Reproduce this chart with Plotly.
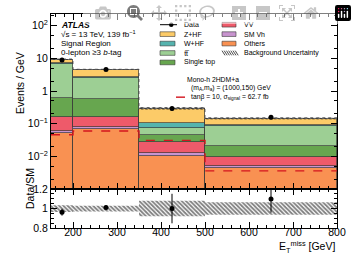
import plotly.graph_objects as go

# ---------------- data ----------------
bin_edges = [150, 200, 350, 500, 800]
others    = [0.051, 0.069, 0.010, 0.0044]
sm_vh     = [0.011, 0.008, 0.0025, 0.0006]
vv        = [0.102, 0.080, 0.0155, 0.0043]
single_top= [0.466, 0.413, 0.016, 0.0117]
ttbar     = [5.87, 1.89, 0.032, 0.067]
w_hf      = [0.50, 0.14, 0.028, 0.006]
z_hf      = [2.20, 1.90, 0.186, 0.049]
data      = [8.85, 4.55, 0.29, 0.157]
data_err  = [0.32, 0.09, 0.044, 0.020]
signal    = [0.046, 0.060, 0.031, 0.0036]
bkg_unc   = [0.035, 0.030, 0.080, 0.065]   # fractional

x_ticks = [200, 300, 400, 500, 600, 700, 800]
y_tickvals = [1e-2, 1e-1, 1, 10, 100]
y_ticktext = ["10<sup>\u22122</sup>", "10<sup>\u22121</sup>", "1", "10", "10<sup>2</sup>"]

# ---------------- helpers ----------------
centers = [(a + b) / 2 for a, b in zip(bin_edges[:-1], bin_edges[1:])]
widths = [b - a for a, b in zip(bin_edges[:-1], bin_edges[1:])]
nb = len(centers)
total = [sum(c[i] for c in [others, sm_vh, vv, single_top, ttbar, w_hf, z_hf]) for i in range(nb)]
ratio = [data[i] / total[i] for i in range(nb)]
ratio_err = [data_err[i] / total[i] for i in range(nb)]

def step(v):
    return list(v) + [v[-1]]

FONT = "Liberation Sans, Arial, Helvetica, sans-serif"
EDGE = "#3a3a3a"

components = [
    ("Others", others, "#f99152"),
    ("SM Vh", sm_vh, "#c894cf"),
    ("VV", vv, "#ee5a6a"),
    ("Single top", single_top, "#67a64f"),
    ("tt\u0305", ttbar, "#9dcf94"),
    ("W+HF", w_hf, "#55b3ae"),
    ("Z+HF", z_hf, "#fccb68"),
]

fig = go.Figure()

for name, vals, col in components:
    fig.add_trace(go.Bar(x=centers, y=vals, width=widths, name=name,
                         marker=dict(color=col, line=dict(color=EDGE, width=0.7)),
                         xaxis="x", yaxis="y", showlegend=False))

# background uncertainty in main panel
lo = [total[i] * (1 - bkg_unc[i]) for i in range(nb)]
hi = [total[i] * (1 + bkg_unc[i]) for i in range(nb)]
hatch = dict(shape="\\", fgcolor="black", bgcolor="rgba(0,0,0,0)", size=3, solidity=0.6)
fig.add_trace(go.Scatter(x=bin_edges, y=step(lo), mode="lines", line=dict(width=0, shape="hv"),
                         xaxis="x", yaxis="y", showlegend=False))
fig.add_trace(go.Scatter(x=bin_edges, y=step(hi), mode="lines", line=dict(width=0, shape="hv"),
                         fill="tonexty", fillcolor="rgba(0,0,0,0)", fillpattern=hatch,
                         xaxis="x", yaxis="y", showlegend=False))
fig.add_trace(go.Scatter(x=bin_edges, y=step(hi), mode="lines",
                         line=dict(width=0.8, shape="hv", dash="dot", color="#444"),
                         xaxis="x", yaxis="y", showlegend=False))

# signal
fig.add_trace(go.Scatter(x=bin_edges, y=step(signal), mode="lines",
                         line=dict(color="#d4141e", width=1.4, dash="dash", shape="hv"),
                         xaxis="x", yaxis="y", showlegend=False))

# data
fig.add_trace(go.Scatter(x=centers, y=data, mode="markers",
                         marker=dict(color="black", size=5),
                         error_y=dict(type="data", array=data_err, color="black", thickness=1, width=0),
                         xaxis="x", yaxis="y", showlegend=False))

# ratio panel
fig.add_trace(go.Scatter(x=bin_edges, y=step([1 - u for u in bkg_unc]), mode="lines",
                         line=dict(width=0, shape="hv"), xaxis="x2", yaxis="y2", showlegend=False))
fig.add_trace(go.Scatter(x=bin_edges, y=step([1 + u for u in bkg_unc]), mode="lines",
                         line=dict(width=0, shape="hv"), fill="tonexty", fillcolor="rgba(0,0,0,0)",
                         fillpattern=hatch, xaxis="x2", yaxis="y2", showlegend=False))
fig.add_trace(go.Scatter(x=centers, y=ratio, mode="markers", marker=dict(color="black", size=5),
                         error_y=dict(type="data", array=ratio_err, color="black", thickness=1, width=0),
                         cliponaxis=True, xaxis="x2", yaxis="y2", showlegend=False))

# ---------------- layout ----------------
W, H = 357, 268
L, R, T, B = 51, 20, 8, 40
pw, ph = W - L - R, H - T - B

def px(xp):
    return (xp - L) / pw

def py(yp):
    return (T + ph - yp) / ph

split = py(188)

axis_common = dict(showline=True, linecolor="black", linewidth=1, mirror="allticks",
                   ticks="inside", ticklen=6, tickcolor="black", showgrid=False, zeroline=False,
                   tickfont=dict(family=FONT, size=10.5, color="black"))

fig.update_layout(
    width=W, height=H, margin=dict(l=L, r=R, t=T, b=B),
    paper_bgcolor="white", plot_bgcolor="white",
    barmode="stack", bargap=0, showlegend=False,
    font=dict(family=FONT, color="black"),
    xaxis=dict(axis_common, range=[150, 800], matches="x2", anchor="y", showticklabels=False,
               tickvals=x_ticks, minor=dict(ticks="inside", ticklen=3, dtick=20, tick0=0, tickcolor="black")),
    yaxis=dict(axis_common, type="log", range=[-3, 2.356], domain=[split, 1], anchor="x",
               tickvals=y_tickvals, ticktext=y_ticktext,
               minor=dict(ticks="inside", ticklen=3, tickcolor="black")),
    xaxis2=dict(axis_common, range=[150, 800], anchor="y2", tickvals=x_ticks, ticklabelstandoff=-6,
                minor=dict(ticks="inside", ticklen=3, dtick=20, tick0=0, tickcolor="black")),
    yaxis2=dict(axis_common, range=[0.8, 1.2], domain=[0, split], anchor="x2",
                tickvals=[0.8, 1.0, 1.2], ticktext=["0.8", "1", "1.2"],
                minor=dict(ticks="inside", ticklen=3, dtick=0.05, tickcolor="black")),
)

ann = []
def text(xp, yp, s, size=8, xanchor="left", **kw):
    ann.append(dict(x=px(xp), y=py(yp), xref="paper", yref="paper", text=s, showarrow=False,
                    xanchor=xanchor, yanchor="middle", font=dict(family=FONT, size=size, color="black"), **kw))

# ATLAS label
text(59, 19, "<b><i>ATLAS</i></b>", 8.5)
text(59, 28.5, "\u221as = 13 TeV, 139 fb<sup>\u22121</sup>", 8)
text(59, 38, "Signal Region", 8)
text(59, 47.5, "0-lepton \u22653 <i>b</i>-tag", 8)

# axis titles
ann.append(dict(x=px(12), y=py(45), xref="paper", yref="paper", text="Events / GeV", showarrow=False,
                textangle=-90, font=dict(family=FONT, size=10.5, color="black")))
ann.append(dict(x=px(22), y=py(211), xref="paper", yref="paper", text="Data/SM", showarrow=False,
                textangle=-90, font=dict(family=FONT, size=10.5, color="black")))
ann.append(dict(x=1, y=py(248), xref="paper", yref="paper", xanchor="right", yanchor="middle",
                text="E<sub>T</sub><sup>miss</sup> [GeV]", showarrow=False,
                font=dict(family=FONT, size=10.5, color="black")))

# manual legend
shapes = []
rows = [19, 28.7, 38.4, 48.1, 57.8]
col1_box, col2_box = (160, 175), (222, 236)
bh = 2.4
# column 1
shapes.append(dict(type="line", xref="paper", yref="paper", x0=px(160), x1=px(177), y0=py(rows[0]), y1=py(rows[0]),
                   line=dict(color="black", width=1)))
shapes.append(dict(type="circle", xref="paper", yref="paper", x0=px(169), x1=px(173.5),
                   y0=py(rows[0] + 2.25), y1=py(rows[0] - 2.25), fillcolor="black", line=dict(width=0)))
text(182, rows[0], "Data", 7)
leg1 = [("Z+HF", "#fccb68"), ("W+HF", "#55b3ae"), ("tt\u0305", "#9dcf94"), ("Single top", "#67a64f")]
for i, (nm, col) in enumerate(leg1):
    r = rows[i + 1]
    shapes.append(dict(type="rect", xref="paper", yref="paper", x0=px(col1_box[0]), x1=px(col1_box[1]),
                       y0=py(r + bh), y1=py(r - bh), fillcolor=col, line=dict(color=EDGE, width=0.6)))
    text(182, r, nm, 7)
leg2 = [("VV", "#ee5a6a"), ("SM Vh", "#c894cf"), ("Others", "#f99152")]
for i, (nm, col) in enumerate(leg2):
    r = rows[i]
    shapes.append(dict(type="rect", xref="paper", yref="paper", x0=px(col2_box[0]), x1=px(col2_box[1]),
                       y0=py(r + bh), y1=py(r - bh), fillcolor=col, line=dict(color=EDGE, width=0.6)))
    text(242, r, nm, 7)
# hatch swatch
r = rows[3]
path = ""
for k in range(7):
    x0 = col2_box[0] + k * 2.2
    path += f"M {px(x0)} {py(r - bh)} L {px(x0 + 3)} {py(r + bh)} "
shapes.append(dict(type="path", xref="paper", yref="paper", path=path, line=dict(color="black", width=0.7)))
text(242, r, "Background Uncertainty", 7)

# signal legend
text(185, 75, "Mono-h 2HDM+a", 6.8)
text(189, 84.3, "(m<sub>A</sub>,m<sub>a</sub>) = (1000,150) GeV", 6.8)
shapes.append(dict(type="line", xref="paper", yref="paper", x0=px(176), x1=px(187), y0=py(93.5), y1=py(93.5),
                   line=dict(color="#d4141e", width=1.4, dash="dash")))
text(189, 93.5, "tan\u03b2 = 10, \u03c3<sub>signal</sub> = 62.7 fb", 6.8)

fig.update_layout(annotations=ann, shapes=shapes)
fig.write_html("out.html", post_script="document.body.style.margin='0';document.body.style.overflow='hidden';")
